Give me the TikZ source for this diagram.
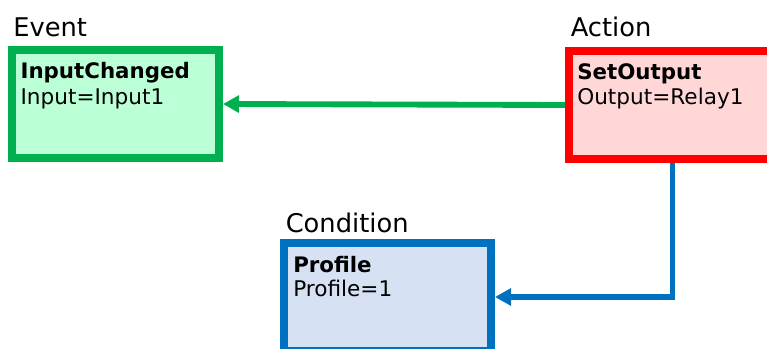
\documentclass[tikz,border=0pt]{standalone}
\usepackage{fontspec}
\setmainfont{DejaVu Sans}
\usetikzlibrary{arrows.meta, calc}
\definecolor{evGreen}{HTML}{00B050}
\definecolor{evFill}{HTML}{BBFFD6}
\definecolor{acRed}{HTML}{FF0000}
\definecolor{acFill}{HTML}{FFD7D7}
\definecolor{cnBlue}{HTML}{0070C0}
\definecolor{cnFill}{HTML}{D6E2F3}

\begin{document}
\begin{tikzpicture}[x=0.75pt, y=-0.75pt,
      box/.style={draw, line width=6pt, minimum width=155.25pt, minimum height=81pt,
                  inner sep=0pt, anchor=north west},
      ttl/.style={anchor=base west, inner sep=0pt, font=\fontsize{19.3}{23}\selectfont},
      head/.style={anchor=base west, inner sep=0pt, font=\fontsize{16}{19}\selectfont\bfseries},
      val/.style={anchor=base west, inner sep=0pt, font=\fontsize{16.2}{19}\selectfont},
      link/.style={line width=4.4pt, -{Triangle[length=12pt, width=12.5pt]}}]
    \clip (0,0) rectangle (767,349);
    \node[box, draw=evGreen, fill=evFill] (event) at (8,46) {};
    \node[box, draw=acRed, fill=acFill] (action) at (565,47) {};
    \node[box, draw=cnBlue, fill=cnFill] (condition) at (280,239) {};
    \node[ttl] (eventttl) at ($(event.north west)+(5,-9.5)$) {Event};
    \node[ttl] (actionttl) at ($(action.north west)+(5.5,-10.5)$) {Action};
    \node[ttl] (conditionttl) at ($(condition.north west)+(5.5,-7)$) {Condition};
    \node[head] (eventhead) at ($(event.north west)+(12.3,33)$) {InputChanged};
    \node[val] (eventval) at ($(eventhead.base west)+(0,26)$) {Input=Input1};
    \node[head] (actionhead) at ($(action.north west)+(12,33)$) {SetOutput};
    \node[val] (actionval) at ($(actionhead.base west)+(0,25)$) {Output=Relay1};
    \node[head] (conditionhead) at ($(condition.north west)+(13,33)$) {Profile};
    \node[val] (conditionval) at ($(conditionhead.base west)+(0,24.5)$) {Profile=1};
    \draw[link, evGreen] (action.west) -- (event.east);
    \draw[link, cnBlue] (action.south) |- (condition.east);
\end{tikzpicture}
\end{document}
